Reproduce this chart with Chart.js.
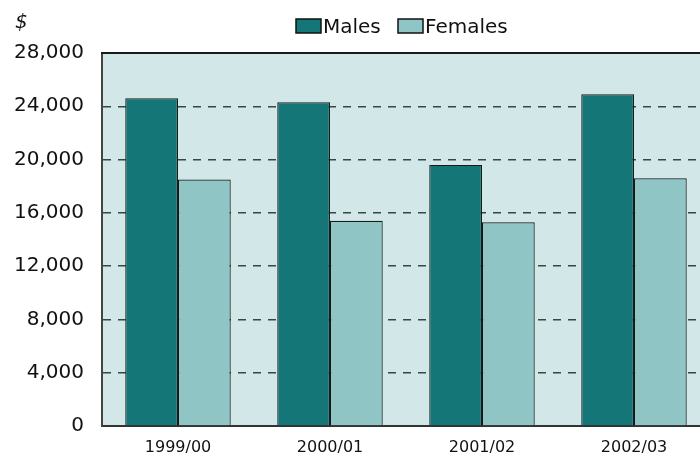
<!DOCTYPE html>
<html>
<head>
<meta charset="utf-8">
<script src="https://cdn.jsdelivr.net/npm/chart.js@4/dist/chart.umd.min.js"></script>
<style>
html,body{margin:0;padding:0;overflow:hidden;background:#fff;}
#wrap{width:710px;height:461px;}
</style>
</head>
<body>
<div id="wrap"><canvas id="c" width="710" height="461"></canvas></div>
<script>
const categories = ['1999/00', '2000/01', '2001/02', '2002/03'];
const males = [24600, 24300, 19600, 24900];
const females = [18500, 15400, 15300, 18600];
const seriesNames = ['Males', 'Females'];
const yTicks = [0, 4000, 8000, 12000, 16000, 20000, 24000, 28000];
const unitLabel = '$';

const FONT = '"DejaVu Sans", sans-serif';
const colors = ['#147676', '#8fc5c5'];

const bgPlugin = {
  id: 'bg',
  beforeDraw(chart) {
    const a = chart.chartArea, ctx = chart.ctx;
    ctx.save();
    ctx.fillStyle = '#d2e8e8';
    ctx.fillRect(a.left, a.top, a.right - a.left, a.bottom - a.top);
    ctx.restore();
  },
  afterDraw(chart) {
    const a = chart.chartArea, ctx = chart.ctx;
    const y = chart.scales.y;
    ctx.save();
    // top solid border
    ctx.strokeStyle = '#1a1a1a';
    ctx.lineWidth = 2;
    ctx.beginPath();
    const ty = Math.round(y.getPixelForValue(yTicks[yTicks.length - 1]));
    ctx.moveTo(a.left - 1, ty);
    ctx.lineTo(a.right, ty);
    ctx.stroke();
    // unit label
    ctx.fillStyle = '#111';
    ctx.font = 'italic 20px ' + FONT;
    ctx.textAlign = 'left';
    ctx.textBaseline = 'middle';
    ctx.fillText(unitLabel, 15, 23);
    // legend
    ctx.font = '20px ' + FONT;
    const items = [{x: 296, text: seriesNames[0], c: colors[0]}, {x: 398, text: seriesNames[1], c: colors[1]}];
    items.forEach(it => {
      ctx.fillStyle = it.c;
      ctx.fillRect(it.x, 19, 25, 14);
      ctx.strokeStyle = '#111';
      ctx.lineWidth = 1.5;
      ctx.strokeRect(it.x, 19, 25, 14);
      ctx.fillStyle = '#111';
      ctx.textBaseline = 'middle';
      ctx.fillText(it.text, it.x + 27, 28);
    });
    ctx.restore();
  }
};

new Chart(document.getElementById('c'), {
  type: 'bar',
  data: {
    labels: categories,
    datasets: [
      {label: seriesNames[0], data: males, backgroundColor: colors[0], borderColor: '#1a1a1a', borderWidth: 1.2},
      {label: seriesNames[1], data: females, backgroundColor: colors[1], borderColor: '#1a1a1a', borderWidth: 1.2}
    ]
  },
  options: {
    responsive: false,
    animation: false,
    devicePixelRatio: 1,
    layout: {padding: {top: 53, left: 0, right: 0, bottom: 0}},
    plugins: {legend: {display: false}, tooltip: {enabled: false}},
    datasets: {bar: {categoryPercentage: 0.694, barPercentage: 1.0}},
    scales: {
      x: {
        grid: {display: false, drawTicks: false},
        border: {display: true, color: '#333', width: 2},
        ticks: {color: '#111', font: {family: FONT, size: 16}, padding: 12, maxRotation: 0},
        afterFit(s) { s.height = 35; }
      },
      y: {
        min: 0, max: 28000,
        afterBuildTicks(s) { s.ticks = yTicks.map(v => ({value: v})); },
        grid: {
          drawTicks: false,
          color: ctx => (ctx.tick && (ctx.tick.value === 0 || ctx.tick.value === 28000)) ? 'rgba(0,0,0,0)' : '#3a4444',
          lineWidth: 1.5
        },
        border: {display: true, color: '#444', width: 2, dash: [8, 7]},
        ticks: {
          color: '#111', font: {family: FONT, size: 20}, padding: 18,
          callback: v => v.toLocaleString('en-US')
        },
        afterFit(s) { s.width = 102; }
      }
    }
  },
  plugins: [bgPlugin]
});
</script>
</body>
</html>
